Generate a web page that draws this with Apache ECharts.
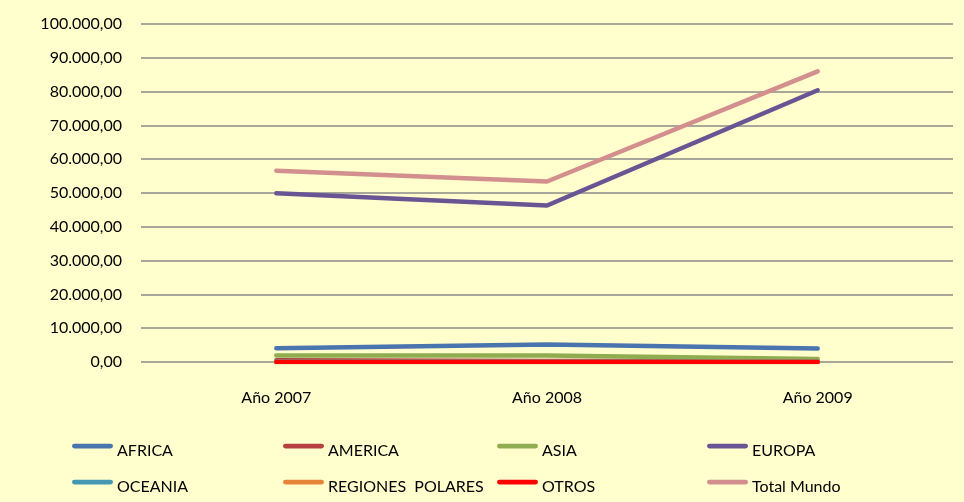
<!DOCTYPE html>
<html>
<head>
<meta charset="utf-8">
<script src="https://cdn.jsdelivr.net/npm/echarts@6/dist/echarts.min.js"></script>
<style>
  html, body { margin: 0; padding: 0; background: #fffecc; }
  #chart { width: 964px; height: 502px; }
</style>
</head>
<body>
<div id="chart"></div>
<script>
const years = ["Año 2007", "Año 2008", "Año 2009"];

const africa = [4100, 5200, 4000];
const america = [500, 300, 400];
const asia = [1900, 1900, 900];
const europa = [49900, 46300, 80400];
const oceania = [120, 100, 80];
const polares = [20, 20, 10];
const otros = [0, 0, 0];
const totalMundo = [56600, 53400, 86000];

const seriesNames = ["AFRICA", "AMERICA", "ASIA", "EUROPA", "OCEANIA", "REGIONES  POLARES", "OTROS", "Total Mundo"];
const seriesValues = [africa, america, asia, europa, oceania, polares, otros, totalMundo];
const colors = ["#4a74ad", "#b5423f", "#8fad50", "#6a5594", "#4498b3", "#e8843a", "#ff0000", "#d38e8e"];

const fmt = (v) => {
  const s = Math.round(v).toString().replace(/\B(?=(\d{3})+(?!\d))/g, ".");
  return s + ",00";
};

// legend: 4 columns x 2 rows
const legendCols = [
  ["AFRICA", "OCEANIA"],
  ["AMERICA", "REGIONES  POLARES"],
  ["ASIA", "OTROS"],
  ["EUROPA", "Total Mundo"]
];
const colLeft = [72, 283, 497, 707];

// bar sits in the top of a taller box so the line shows a bit above the text middle
const legendIcon = "path://M2,0H39A2,2 0 0 1 39,5H2A2,2 0 0 1 2,0Z M0,15H41V15.01H0Z";

const legends = legendCols.map((names, i) => ({
  orient: "vertical",
  left: colLeft[i],
  top: 443,
  padding: 0,
  itemGap: 20,
  itemWidth: 41,
  itemHeight: 15,
  icon: legendIcon,
  selectedMode: false,
  textStyle: { fontFamily: "Lato", fontSize: 16, color: "#000", padding: [0, 0, 0, -1] },
  data: names
}));

const chart = echarts.init(document.getElementById("chart"));
chart.setOption({
  backgroundColor: "#fffecc",
  animation: false,
  color: colors,
  legend: legends,
  grid: { left: 141, right: 11, top: 24, bottom: 140, containLabel: false },
  xAxis: {
    type: "category",
    data: years,
    axisLine: { show: false },
    axisTick: { show: false },
    axisLabel: { margin: 28, fontFamily: "Lato", fontSize: 16, color: "#000" }
  },
  yAxis: {
    type: "value",
    min: 0,
    max: 100000,
    interval: 10000,
    axisLine: { show: false },
    axisTick: { show: false },
    axisLabel: { margin: 19, fontFamily: "Lato", fontSize: 16, color: "#000", formatter: fmt },
    splitLine: { lineStyle: { color: "#8a8a8a", width: 1.5 } }
  },
  series: seriesNames.map((name, i) => ({
    name: name,
    type: "line",
    data: seriesValues[i],
    showSymbol: false,
    symbol: "none",
    lineStyle: { width: 4.5, color: colors[i], cap: "round" },
    itemStyle: { color: colors[i] }
  }))
});
</script>
</body>
</html>
